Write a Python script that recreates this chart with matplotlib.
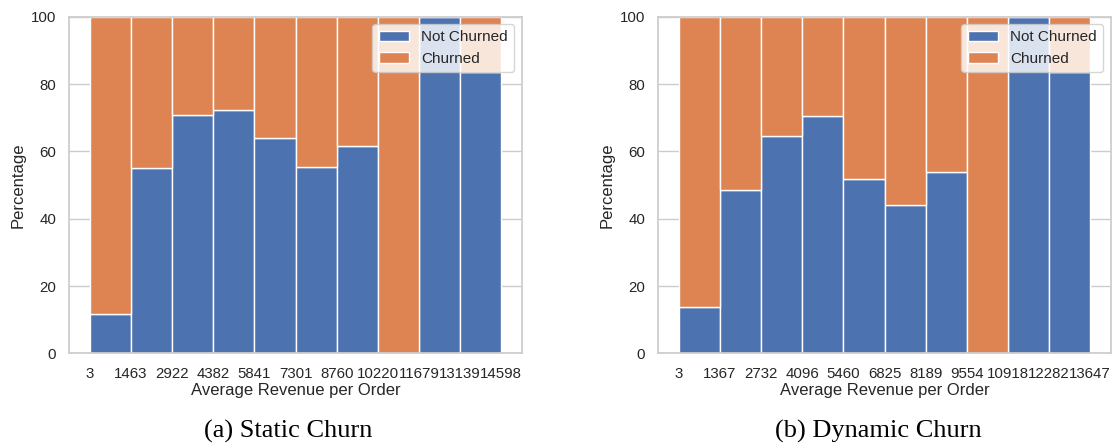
import matplotlib
matplotlib.use("Agg")
import matplotlib.pyplot as plt
import numpy as np
import seaborn as sns

# Bin edges of average revenue per order (10 bins)
edges_static = ['3', '1463', '2922', '4382', '5841', '7301', '8760',
                '10220', '11679', '13139', '14598']
edges_dynamic = ['3', '1367', '2732', '4096', '5460', '6825', '8189',
                 '9554', '10918', '12282', '13647']

# Share of customers not churned per bin (%)
not_churned_static = [11.6, 55.1, 70.9, 72.2, 64.0, 55.4, 61.5, 0.0, 100.0, 83.5]
not_churned_dynamic = [13.9, 48.6, 64.5, 70.4, 51.9, 44.2, 53.8, 0.0, 100.0, 83.5]

captions = ['(a) Static Churn', '(b) Dynamic Churn']

sns.set_theme(style="whitegrid")
plt.rcParams['font.family'] = ['Liberation Sans', 'DejaVu Sans']

blue = sns.color_palette("deep")[0]
orange = sns.color_palette("deep")[1]

fig = plt.figure(figsize=(11.16, 4.45), dpi=100)
ax_a = fig.add_axes([0.0621, 0.206, 0.4054, 0.7564])
ax_b = fig.add_axes([0.5899, 0.206, 0.4054, 0.7564])


def churn_bars(ax, not_churned, edges):
    nc = np.array(not_churned)
    ch = 100 - nc
    x = np.arange(len(nc))
    ax.bar(x, nc, width=1, color=blue, edgecolor='white', linewidth=1,
           label='Not Churned')
    ax.bar(x, ch, bottom=nc, width=1, color=orange, edgecolor='white',
           linewidth=1, label='Churned')
    ax.set_xlim(-1, len(nc))
    ax.set_ylim(0, 100)
    ax.set_xticks(np.arange(len(edges)) - 0.5)
    ax.set_xticklabels(edges)
    ax.set_yticks([0, 20, 40, 60, 80, 100])
    ax.tick_params(axis='both', labelsize=10.8, colors='#262626')
    ax.xaxis.grid(False)
    ax.set_xlabel('Average Revenue per Order', fontsize=12, color='#262626',
                  labelpad=2)
    ax.set_ylabel('Percentage', fontsize=12, color='#262626')
    ax.legend(loc='upper right', fontsize=11)


churn_bars(ax_a, not_churned_static, edges_static)
churn_bars(ax_b, not_churned_dynamic, edges_dynamic)

fig.text(288 / 1116, 1 - 431 / 445, captions[0], ha='center', va='center',
         fontsize=19, family='Liberation Serif', color='black')
fig.text(878 / 1116, 1 - 431 / 445, captions[1], ha='center', va='center',
         fontsize=19, family='Liberation Serif', color='black')

fig.savefig('out.png', dpi=100)
